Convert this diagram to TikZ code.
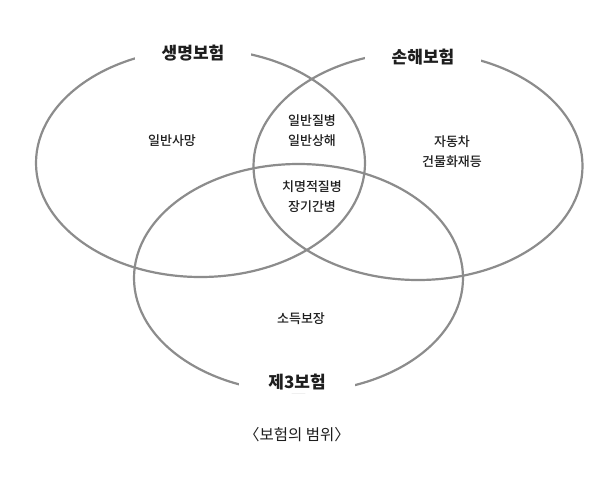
\documentclass[tikz,border=0pt]{standalone}
\usepackage{fontspec}
\setmainfont{Noto Sans CJK KR}
\newfontfamily\medfont{Noto Sans CJK KR Medium}
\usetikzlibrary{shapes.geometric}
\definecolor{ringc}{RGB}{140,140,140}
\definecolor{inkc}{RGB}{30,30,30}
\begin{document}
\begin{tikzpicture}[x=1pt,y=-1pt,
  ring/.style={draw=ringc, line width=2.2pt, ellipse, minimum width=329pt, minimum height=228pt, inner sep=0pt},
  title/.style={fill=white, font=\bfseries\fontsize{17}{19}\selectfont, text=inkc, minimum width=116pt, minimum height=22pt, inner sep=0pt},
  body/.style={font=\medfont\fontsize{13}{20}\selectfont, text=inkc, align=center, inner sep=0pt},
  caption/.style={font=\fontsize{15.5}{17}\selectfont, text=inkc, inner sep=0pt}]
\fill[white] (0,0) rectangle (615,485);
\useasboundingbox (0,0) rectangle (615,485);
\node[ring] (life) at (200.5,163) {};
\node[ring] (loss) at (418,166) {};
\node[ring] (third) at (298.5,278) {};
\node[title] (lifet) at (193,53) {생명보험};
\node[title] (losst) at (423,57) {손해보험};
\node[title] (thirdt) at (297,382) {제3보험};
\node[body] (a) at (172,141) {일반사망};
\node[body] (b) at (312,131) {일반질병\\일반상해};
\node[body] (c) at (312,197) {치명적질병\\장기간병};
\node[body] (d) at (452,152) {자동차\\건물화재등};
\node[body] (e) at (301,319) {소득보장};
\node[caption] (cap) at (297,435) {〈보험의 범위〉};
\end{tikzpicture}
\end{document}
